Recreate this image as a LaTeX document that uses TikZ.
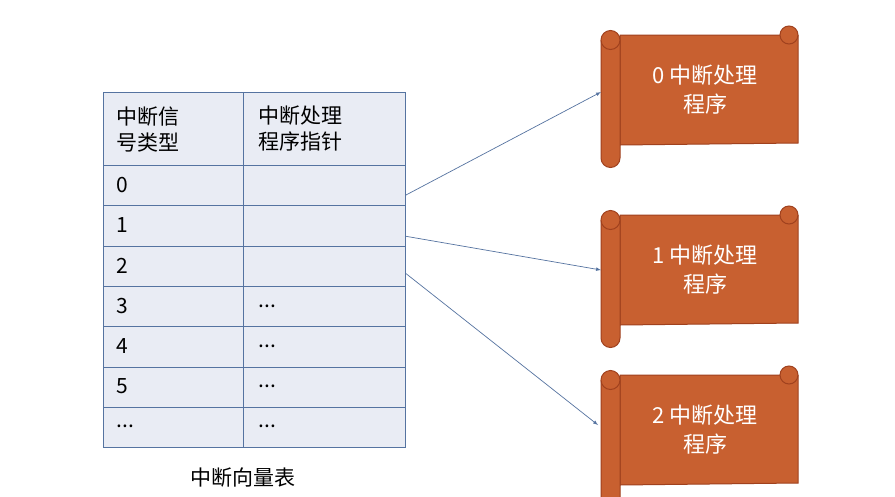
\documentclass[tikz,border=0pt]{standalone}
\usepackage{fontspec}
\setmainfont{Noto Sans CJK SC}
\newcommand\dd{...}
\begin{document}
\begin{tikzpicture}[x=1pt,y=-1pt,
  cell/.style={draw=tabline,fill=tabfill,line width=1pt,minimum width=140pt,minimum height=40.3pt,anchor=north west,inner sep=0pt},
  ctext/.style={anchor=west,font=\fontsize{21}{26}\selectfont},
  scr/.style={fill=scrollc,draw=scrolld,line width=1pt},
  stext/.style={text=white,font=\fontsize{22}{29}\selectfont,align=center},
  arr/.style={-latex,draw=tabline,line width=0.7pt}]
\definecolor{tabline}{RGB}{85,115,160}
\definecolor{tabfill}{RGB}{233,236,244}
\definecolor{scrollc}{RGB}{200,96,48}
\definecolor{scrolld}{RGB}{160,65,30}
\useasboundingbox (0,0) rectangle (895,496);
\fill[white] (0,0) rectangle (895,496);
% table
\node[cell,minimum height=73pt] (h1) at (103,92) {};
\node[cell,minimum height=73pt,minimum width=162pt] (h2) at (243,92) {};
\node[ctext,align=left] at (113,129) {中断信\\号类型};
\node[ctext,align=left] at (255,129) {中断处理\\程序指针};
\foreach \i/\a/\b in {0/0/,1/1/,2/2/,3/3/\dd,4/4/\dd,5/5/\dd,6/\dd/\dd}{
  \node[cell] (l\i) at (103,165+40.3*\i) {};
  \node[cell,minimum width=162pt] (r\i) at (243,165+40.3*\i) {};
  \node[ctext] at (113,185+40.3*\i) {\a};
  \node[ctext] at (255,185+40.3*\i) {\b};
}
\node[font=\fontsize{21}{26}\selectfont] (cap) at (243,478) {中断向量表};
% scrolls
\foreach \n/\y in {0/18,1/198,2/358}{
  \begin{scope}[yshift=-\y]
    \draw[scr] (780,17) arc(180:360:9) -- (798,125) -- (620,127) -- (620,17) -- cycle;
    \draw[scr] (601,22) arc(180:360:9.5) -- (620,140) arc(0:180:9.5) -- cycle;
    \draw[scr] (780,17) arc(180:0:9);
    \draw[scr] (601,22) arc(180:0:9.5);
    \node[stext] (s\n) at (705,72) {\n\ 中断处理\\程序};
  \end{scope}
}
\coordinate (t0) at (601,92);
\coordinate (t1) at (601,270);
\coordinate (t2) at (598,425);
\draw[arr] (r0.north east) ++(0,30) -- (t0);
\draw[arr] (r1.north east) ++(0,31) -- (t1);
\draw[arr] (r2.north east) ++(0,28) -- (t2);
\end{tikzpicture}
\end{document}
